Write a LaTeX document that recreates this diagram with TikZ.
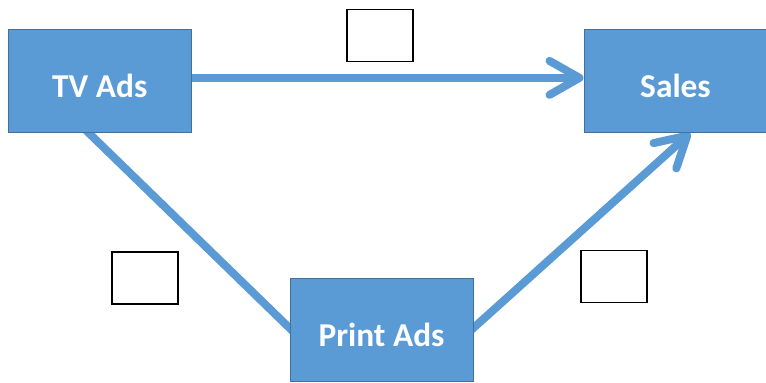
\documentclass[tikz,border=0pt]{standalone}
\usepackage{fontspec}
\setmainfont{Carlito}
\usetikzlibrary{arrows.meta,calc,backgrounds}
\definecolor{boxblue}{HTML}{5B9BD5}
\definecolor{boxedge}{HTML}{41719C}

\begin{document}
\begin{tikzpicture}[x=1bp,y=-1bp,
  factor/.style={draw=boxedge, line width=1bp, fill=boxblue, text=white,
    font=\bfseries\fontsize{33.5}{40}\selectfont,
    minimum width=183bp, minimum height=103bp,
    text height=32bp, text depth=0pt, inner sep=0pt},
  coef/.style={draw=black, line width=1.2bp, fill=white,
    minimum width=66bp, minimum height=52bp, inner sep=0pt},
  link/.style={draw=boxblue, line width=8bp},
  tip/.style={-{Straight Barb[length=30bp,width=34bp,round]}}
]
\useasboundingbox (0,0) rectangle (766,382);
\clip (0,0) rectangle (766,382);

% variables
\node[factor] (tv)    at (99.75,81)  {TV Ads};
\node[factor] (sales) at (675.5,81)  {Sales};
\node[factor] (print) at (381.5,330) {Print Ads};

% empty coefficient boxes
\node[coef] (c1) at (380,35.7)  {};
\node[coef] (c2) at (145,278)   {};
\node[coef] (c3) at (614,276.7) {};

% paths, kept behind the boxes
\begin{pgfonlayer}{background}
  \draw[link,tip] ($(tv.north east)!0.47!(tv.south east)$)
    -- ($(sales.north west)!0.47!(sales.south west)$);
  \draw[link] ($(tv.south west)!0.44!(tv.south east)+(-4,-4)$)
    -- ($(print.north west)!0.48!(print.south west)+(4,4)$);
  \draw[link,tip] ($(print.north east)!0.48!(print.south east)+(-4,3.6)$)
    -- ($(sales.south west)!0.58!(sales.south east)$);
\end{pgfonlayer}
\end{tikzpicture}
\end{document}
